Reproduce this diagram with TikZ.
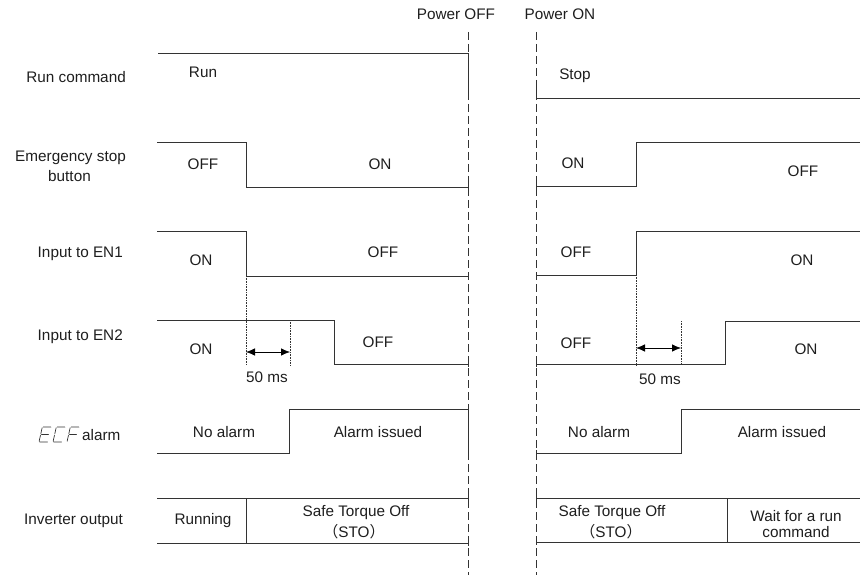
\documentclass[tikz,border=0pt]{standalone}
\usepackage{fontspec}
\setmainfont{Liberation Sans}
\newfontfamily\cjk{Noto Sans CJK JP}
\usetikzlibrary{arrows.meta}
\definecolor{sig}{HTML}{333333}
\definecolor{txt}{HTML}{1E1E1E}
\tikzset{
  lab/.style={inner sep=0pt, anchor=base, text=txt, font=\fontsize{15.3pt}{18pt}\selectfont},
  labr/.style={lab, anchor=base east},
  wave/.style={draw=sig, line width=0.9pt},
  tick/.style={draw=sig, line width=0.9pt},
  pwr/.style={draw=sig, line width=0.8pt, dash pattern=on 8pt off 4pt},
  dly/.style={draw=sig, line width=0.6pt, densely dotted},
  dim/.style={draw=black, line width=0.8pt, {Latex[length=9pt,width=7.5pt]}-{Latex[length=9pt,width=7.5pt]}},
  seg/.style={draw=sig, line width=0.7pt, line cap=round}
}
\begin{document}
\begin{tikzpicture}[x=1pt,y=-1pt]
\useasboundingbox (0,0) rectangle (860,575);

% power lines
\coordinate (offtop) at (468,32); \coordinate (offbot) at (468,575);
\coordinate (ontop) at (536,32);  \coordinate (onbot) at (536,575);
\draw[pwr] (offtop) -- (offbot);
\draw[pwr] (ontop) -- (onbot);
\node[lab] (poff) at (456,20) {Power OFF};
\node[lab] (pon) at (560,20) {Power ON};

% row labels
\node[labr] (l-run) at (126,83) {Run command};
\node[labr] (l-es1) at (126,162) {Emergency stop};
\node[lab] (l-es2) at (69.5,182) {button};
\node[labr] (l-en1) at (123,258) {Input to EN1};
\node[labr] (l-en2) at (123,340) {Input to EN2};
\node[lab, anchor=base west] (l-ecf) at (82,440) {alarm};
\node[labr] (l-inv) at (123,524) {Inverter output};

% ECF seven-segment glyphs
\begin{scope}[shift={(39,442)}, xslant=0.22]
  \draw[seg] (0.8,-15)--(8.6,-15) (0.8,-7.5)--(7.8,-7.5) (0.8,0)--(8.6,0)
             (0,-8.3)--(0,-14.2) (0,-0.8)--(0,-6.7);
\end{scope}
\begin{scope}[shift={(53,442)}, xslant=0.22]
  \draw[seg] (0.8,-15)--(8.6,-15) (0.8,0)--(8.6,0)
             (0,-8.3)--(0,-14.2) (0,-0.8)--(0,-6.7);
\end{scope}
\begin{scope}[shift={(67,442)}, xslant=0.22]
  \draw[seg] (0.8,-15)--(8.6,-15) (0.8,-7.5)--(7.8,-7.5)
             (0,-8.3)--(0,-14.2) (0,-0.8)--(0,-6.7);
\end{scope}

% ---- Run command
\draw[wave] (158,53) -- (468,53) -- (468,98);
\draw[wave] (536,88) -- (536,98) -- (860,98);
\node[lab] (t-run) at (203,77.5) {Run};
\node[lab] (t-stop) at (575,80) {Stop};

% ---- Emergency stop
\draw[wave] (157,142) -- (246,142) -- (246,187) -- (468,187);
\draw[wave] (536,186) -- (636,186) -- (636,142) -- (860,142);
\node[lab] (t-es-off) at (203,170) {OFF};
\node[lab] (t-es-on) at (380,170) {ON};
\node[lab] (t-es-on2) at (573,169) {ON};
\node[lab] (t-es-off2) at (803,177) {OFF};

% ---- EN1
\draw[wave] (157,231) -- (246,231) -- (246,276) -- (468,276);
\draw[wave] (536,275) -- (636,275) -- (636,231) -- (860,231);
\node[lab] (t-en1-on) at (201,265) {ON};
\node[lab] (t-en1-off) at (383,258) {OFF};
\node[lab] (t-en1-off2) at (576,258) {OFF};
\node[lab] (t-en1-on2) at (802,265) {ON};

% ---- EN2
\draw[wave] (157,320) -- (334,320) -- (334,364) -- (468,364);
\draw[wave] (536,364) -- (725,364) -- (725,321) -- (860,321);
\draw[dly] (246,276) -- (246,365);
\draw[dly] (290,320) -- (290,365);
\draw[dly] (636,275) -- (636,365);
\draw[dly] (681,321) -- (681,365);
\coordinate (a1) at (246,352); \coordinate (a2) at (290,352);
\coordinate (b1) at (636,348); \coordinate (b2) at (681,348);
\draw[dim] (a1) -- (a2);
\draw[dim] (b1) -- (b2);
\node[lab] (t-en2-on) at (201,354) {ON};
\node[lab] (t-en2-off) at (378,347) {OFF};
\node[lab] (t-50a) at (267,382) {50 ms};
\node[lab] (t-en2-off2) at (576,348) {OFF};
\node[lab] (t-en2-on2) at (806,354) {ON};
\node[lab] (t-50b) at (660,384) {50 ms};

% ---- ECF alarm
\draw[wave] (157,453) -- (289,453) -- (289,409) -- (468,409) -- (468,453);
\draw[wave] (536,453) -- (681,453) -- (681,409) -- (860,409);
\node[lab] (t-na1) at (224,437) {No alarm};
\node[lab] (t-ai1) at (378,437) {Alarm issued};
\node[lab] (t-na2) at (599,437) {No alarm};
\node[lab] (t-ai2) at (782,437) {Alarm issued};

% ---- Inverter output
\draw[wave] (157,498) -- (468,498);
\draw[wave] (157,543) -- (468,543);
\draw[wave] (246,498) -- (246,543);
\draw[wave] (536,498) -- (860,498);
\draw[wave] (536,542) -- (860,542);
\draw[wave] (727,498) -- (727,542);
\node[lab] (t-runn) at (203,524) {Running};
\node[lab] (t-sto1a) at (356,516) {Safe Torque Off};
\node[lab] (t-sto1b) at (354,537) {{\cjk （}STO{\cjk ）}};
\node[lab] (t-sto2a) at (612,516) {Safe Torque Off};
\node[lab] (t-sto2b) at (611,537) {{\cjk （}STO{\cjk ）}};
\node[lab] (t-wait1) at (796,521) {Wait for a run};
\node[lab] (t-wait2) at (796,537) {command};

% end ticks on the power lines
\foreach \yy in {187,276,364,498,543} \draw[tick] (468,\yy-3) -- (468,\yy+3);
\foreach \yy in {186,275,364,453,498,542} \draw[tick] (536,\yy-3) -- (536,\yy+3);
\end{tikzpicture}
\end{document}
